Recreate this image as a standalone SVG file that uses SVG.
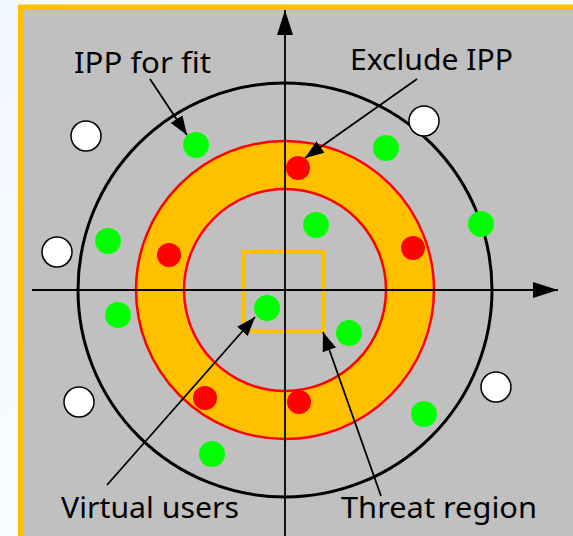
<svg xmlns="http://www.w3.org/2000/svg" width="573" height="536" viewBox="0 0 573 536">
<defs>
<linearGradient id="bg" x1="0" y1="0" x2="1" y2="1">
<stop offset="0" stop-color="#F2F8FF"/>
<stop offset="1" stop-color="#FFFFFF"/>
</linearGradient>
<marker id="ah" markerUnits="userSpaceOnUse" markerWidth="20" markerHeight="16" viewBox="0 0 20 16" refX="19" refY="8" orient="auto">
<path d="M0,1 L19,8 L0,15 Z" fill="#000"/>
</marker>
<marker id="axh" markerUnits="userSpaceOnUse" markerWidth="26" markerHeight="18" viewBox="0 0 26 18" refX="25" refY="9" orient="auto">
<path d="M0,1 L25,9 L0,17 Z" fill="#000"/>
</marker>
</defs>
<style>
.lbl{font-family:"Noto Sans","Open Sans","DejaVu Sans",sans-serif;font-size:29px;fill:#000}
.g{fill:#00FF00}
.r{fill:#FF0000}
.w{fill:#FFFFFF;stroke:#000;stroke-width:1.5}
.ptr{stroke:#000;stroke-width:1.8;fill:none;marker-end:url(#ah)}
.axis{stroke:#000;stroke-width:1.8;fill:none;marker-end:url(#axh)}
</style>
<rect x="0" y="0" width="573" height="536" fill="url(#bg)"/>
<rect id="frame" x="20.75" y="7.25" width="570" height="540" fill="#C0C0C0" stroke="#FFC000" stroke-width="5.5"/>

<g id="ring">
<circle cx="285" cy="290" r="125" fill="none" stroke="#FFC000" stroke-width="48"/>
<circle cx="285" cy="290" r="149" fill="none" stroke="#FF0000" stroke-width="2.5"/>
<circle cx="285" cy="290" r="101" fill="none" stroke="#FF0000" stroke-width="2.5"/>
</g>
<g id="outer-circle">
<circle cx="285" cy="290" r="207" fill="none" stroke="#000" stroke-width="3"/>
</g>
<g id="threat-region">
<rect x="244" y="252" width="79" height="79" fill="none" stroke="#FFC000" stroke-width="4"/>
</g>

<g id="axes">
<line class="axis" x1="32" y1="290" x2="558" y2="290"/>
<line class="axis" x1="285" y1="540" x2="285" y2="10"/>
</g>

<g id="white-dots">
<circle class="w" cx="86" cy="136" r="15"/>
<circle class="w" cx="424" cy="121" r="15"/>
<circle class="w" cx="57" cy="252" r="15"/>
<circle class="w" cx="79" cy="402" r="15"/>
<circle class="w" cx="496" cy="387" r="15"/>
</g>
<g id="green-dots">
<circle class="g" cx="196" cy="145" r="13"/>
<circle class="g" cx="386" cy="148" r="13"/>
<circle class="g" cx="108" cy="241" r="13"/>
<circle class="g" cx="118" cy="315" r="13"/>
<circle class="g" cx="267" cy="308" r="13"/>
<circle class="g" cx="316" cy="225" r="13"/>
<circle class="g" cx="481" cy="224" r="13"/>
<circle class="g" cx="349" cy="333" r="13"/>
<circle class="g" cx="212" cy="454" r="13"/>
<circle class="g" cx="424" cy="414" r="13"/>
</g>
<g id="red-dots">
<circle class="r" cx="298" cy="168" r="12"/>
<circle class="r" cx="169" cy="255" r="12"/>
<circle class="r" cx="413" cy="248" r="12"/>
<circle class="r" cx="205" cy="398" r="12"/>
<circle class="r" cx="299" cy="402" r="12"/>
</g>

<g id="connectors">
<line class="ptr" x1="150" y1="79" x2="187" y2="135"/>
<line class="ptr" x1="417" y1="79" x2="305" y2="158"/>
<line class="ptr" x1="107" y1="485" x2="255" y2="317"/>
<line class="ptr" x1="381" y1="496" x2="323" y2="332"/>
</g>

<g id="label-ipp-fit"><text class="lbl" x="74" y="73" textLength="137" lengthAdjust="spacingAndGlyphs">IPP for fit</text></g>
<g id="label-exclude"><text class="lbl" x="350" y="70" textLength="163" lengthAdjust="spacingAndGlyphs">Exclude IPP</text></g>
<g id="label-virtual"><text class="lbl" x="61" y="518" textLength="178" lengthAdjust="spacingAndGlyphs">Virtual users</text></g>
<g id="label-threat"><text class="lbl" x="341" y="518" textLength="196" lengthAdjust="spacingAndGlyphs">Threat region</text></g>
</svg>
